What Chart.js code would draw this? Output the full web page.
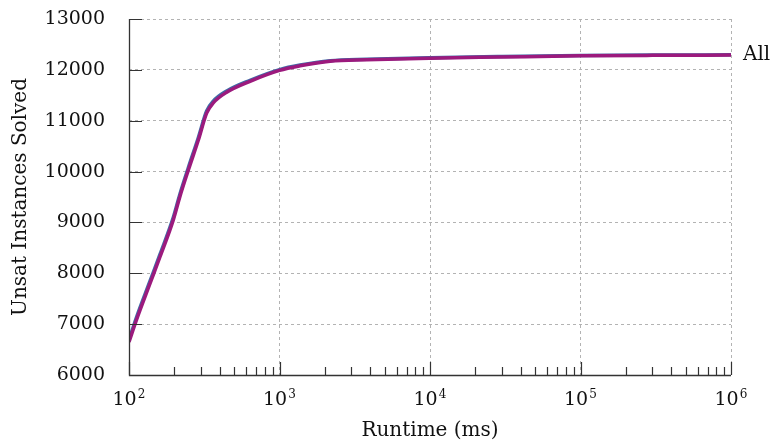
<!DOCTYPE html>
<html>
<head>
<meta charset="utf-8">
<script src="https://cdn.jsdelivr.net/npm/chart.js@4"></script>
<style>
  html, body { margin: 0; padding: 0; background: #fff; }
  #wrap { width: 776px; height: 444px; }
</style>
</head>
<body>
<div id="wrap"><canvas id="myChart" width="776" height="444"></canvas></div>
<script>
// runtime (ms) and cumulative solved counts
const runtimeMs = [100, 112, 138, 161, 197, 218, 248, 289, 328, 363, 446, 637, 1000, 1370, 2170, 3800, 10000, 30000, 100000, 300000, 1000000];
const solvedBlue = [6690, 7130, 7850, 8380, 9100, 9560, 10080, 10670, 11190, 11385, 11585, 11795, 12005, 12095, 12180, 12210, 12240, 12262, 12280, 12290, 12295];
const solvedMagenta = [6650, 7080, 7800, 8330, 9050, 9510, 10030, 10620, 11150, 11350, 11560, 11775, 11990, 12080, 12170, 12200, 12230, 12252, 12275, 12285, 12290];
const xPowers = [2, 3, 4, 5, 6];
const yTicks = [6000, 7000, 8000, 9000, 10000, 11000, 12000, 13000];
const endLabel = 'All';

const serif = "'DejaVu Serif', serif";

const toPoints = (ys) => runtimeMs.map((x, i) => ({x: x, y: ys[i]}));

// axis lines, inward ticks, superscript x labels and the end label
const decor = {
    id: 'decor',
    afterDraw(chart) {
        const ctx = chart.ctx;
        const xs = chart.scales.x, ys = chart.scales.y;
        const {left, right, top, bottom} = chart.chartArea;
        ctx.save();
        ctx.strokeStyle = '#333';
        ctx.lineWidth = 1.3;
        ctx.beginPath();
        ctx.moveTo(left + 0.5, top);
        ctx.lineTo(left + 0.5, bottom + 0.5);
        ctx.lineTo(right, bottom + 0.5);
        ctx.stroke();

        ctx.lineWidth = 1.2;
        ctx.beginPath();
        yTicks.forEach(v => {
            const y = Math.round(ys.getPixelForValue(v)) + 0.5;
            ctx.moveTo(left, y);
            ctx.lineTo(left + 13, y);
        });
        xPowers.forEach((p, i) => {
            const x = Math.round(xs.getPixelForValue(Math.pow(10, p))) + 0.5;
            ctx.moveTo(x, bottom);
            ctx.lineTo(x, bottom - 13);
            if (i < xPowers.length - 1) {
                for (let m = 2; m <= 9; m++) {
                    const xm = Math.round(xs.getPixelForValue(m * Math.pow(10, p))) + 0.5;
                    ctx.moveTo(xm, bottom);
                    ctx.lineTo(xm, bottom - 8);
                }
            }
        });
        ctx.stroke();

        ctx.fillStyle = '#111';
        ctx.textBaseline = 'alphabetic';
        xPowers.forEach(p => {
            const x = xs.getPixelForValue(Math.pow(10, p));
            ctx.font = '19px ' + serif;
            ctx.textAlign = 'left';
            const w = ctx.measureText('10').width;
            ctx.fillText('10', x - 16.5, 405);
            ctx.font = '12px ' + serif;
            ctx.fillText(String(p), x - 16.5 + w + 1, 398);
        });

        const last = chart.getDatasetMeta(1).data[runtimeMs.length - 1];
        ctx.font = '20px ' + serif;
        ctx.textAlign = 'left';
        ctx.textBaseline = 'middle';
        ctx.fillText(endLabel, last.x + 12, last.y);
        ctx.restore();
    }
};

new Chart(document.getElementById('myChart'), {
    type: 'line',
    data: {
        datasets: [{
            label: 'blue',
            data: toPoints(solvedBlue),
            borderColor: '#3f6aa6',
            borderWidth: 3.5,
            pointRadius: 0,
            fill: false,
            order: 2,
            cubicInterpolationMode: 'monotone'
        }, {
            label: 'magenta',
            data: toPoints(solvedMagenta),
            borderColor: '#9c1a7d',
            borderWidth: 3.5,
            pointRadius: 0,
            fill: false,
            order: 1,
            cubicInterpolationMode: 'monotone'
        }]
    },
    plugins: [decor],
    options: {
        responsive: false,
        animation: false,
        layout: { padding: { left: 5, right: 45, top: 19, bottom: 0 } },
        plugins: {
            legend: { display: false },
            tooltip: { enabled: false }
        },
        scales: {
            x: {
                type: 'logarithmic',
                min: 100,
                max: 1000000,
                afterBuildTicks: (axis) => {
                    axis.ticks = xPowers.map(p => ({value: Math.pow(10, p)}));
                },
                afterFit: (axis) => { axis.height = 69; },
                ticks: { display: false },
                grid: { color: '#b3b3b3', lineWidth: 1, drawTicks: false },
                border: { display: false, dash: [3, 3] },
                title: {
                    display: true,
                    text: 'Runtime (ms)',
                    color: '#111',
                    font: { family: serif, size: 20 },
                    padding: { top: 0, bottom: 1 }
                }
            },
            y: {
                min: 6000,
                max: 13000,
                afterBuildTicks: (axis) => {
                    axis.ticks = yTicks.map(v => ({value: v}));
                },
                afterFit: (axis) => { axis.width = 124; },
                ticks: {
                    color: '#111',
                    font: { family: serif, size: 19 },
                    padding: 0,
                    callback: (v) => String(v)
                },
                grid: {
                    color: '#b3b3b3',
                    lineWidth: 1,
                    drawTicks: true,
                    tickLength: 24,
                    tickColor: 'rgba(0,0,0,0)'
                },
                border: { display: false, dash: [3, 3] },
                title: {
                    display: true,
                    text: 'Unsat Instances Solved',
                    color: '#111',
                    font: { family: serif, size: 20 },
                    padding: { top: 4, bottom: 12 }
                }
            }
        }
    }
});
</script>
</body>
</html>
